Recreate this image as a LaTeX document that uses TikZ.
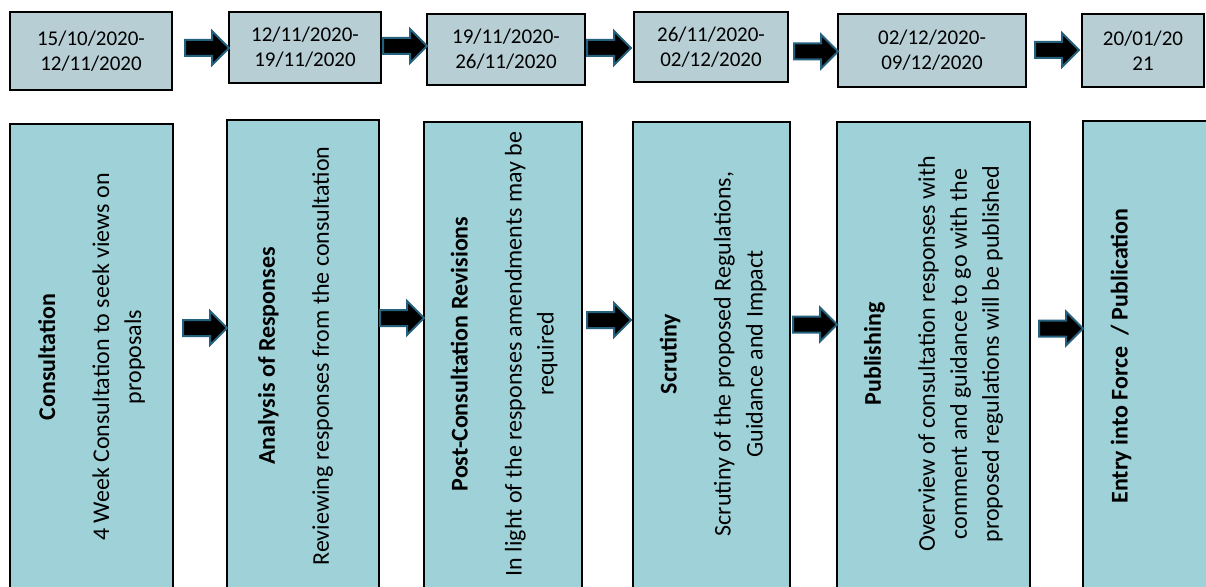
\documentclass[tikz,border=0pt]{standalone}
\usepackage{fontspec}
\setmainfont{Carlito}
\usetikzlibrary{shapes.arrows}
\definecolor{datefill}{RGB}{183,206,213}
\definecolor{stepfill}{RGB}{158,210,216}
\definecolor{arrowedge}{RGB}{37,96,125}
\begin{document}
\begin{tikzpicture}[x=1pt,y=-1pt,
  datebox/.style={draw=black,line width=2pt,fill=datefill,inner sep=0pt,outer sep=0pt,align=center,font=\fontsize{21}{25}\selectfont},
  stepbox/.style={draw=black,line width=2pt,fill=stepfill,inner sep=0pt,outer sep=0pt},
  steptext/.style={rotate=90,align=center,inner sep=0pt,font=\fontsize{24}{32}\selectfont},
  blockarrow/.style={single arrow,draw=arrowedge,fill=black,line width=2pt,minimum height=44pt,single arrow head extend=9pt,inner xsep=0pt,inner ysep=7pt,anchor=tip,outer sep=0pt}]
\useasboundingbox (0,0) rectangle (1206,586);
\fill[white] (0,0) rectangle (1206,586);
\clip (0,0) rectangle (1206,586);

% date boxes
\node[datebox,minimum width=162pt,minimum height=77pt] (d1) at (91,51) {15/10/2020-\\12/11/2020};
\node[datebox,minimum width=152pt,minimum height=71pt] (d2) at (305,47.5) {12/11/2020-\\19/11/2020};
\node[datebox,minimum width=158pt,minimum height=71pt] (d3) at (506,49.5) {19/11/2020-\\26/11/2020};
\node[datebox,minimum width=154pt,minimum height=70pt] (d4) at (711,47) {26/11/2020-\\02/12/2020};
\node[datebox,minimum width=188pt,minimum height=73pt] (d5) at (932,50.5) {02/12/2020-\\09/12/2020};
\node[datebox,minimum width=122pt,minimum height=73pt] (d6) at (1143,50.5) {20/01/20\\21};

% step boxes
\node[stepbox,minimum width=163pt,minimum height=466pt] (b1) at (91.5,357) {};
\node[stepbox,minimum width=152pt,minimum height=470pt] (b2) at (303,355) {};
\node[stepbox,minimum width=158pt,minimum height=468pt] (b3) at (503,356) {};
\node[stepbox,minimum width=157pt,minimum height=468pt] (b4) at (711.5,356) {};
\node[stepbox,minimum width=193pt,minimum height=468pt] (b5) at (933.5,356) {};
\node[stepbox,minimum width=146pt,minimum height=469pt] (b6) at (1156,355.5) {};

% step texts
\node[steptext] (t1) at (91.5,357) {\textbf{Consultation}\\[22pt]4 Week Consultation to seek views on\\proposals};
\node[steptext] (t2) at (295.5,356) {\textbf{Analysis of Responses}\\[22pt]Reviewing responses from the consultation};
\node[steptext] (t3) at (504,354) {\textbf{Post-Consultation Revisions}\\[22pt]In light of the responses amendments may be\\required};
\node[steptext] (t4) at (713,354) {\textbf{Scrutiny}\\[22pt]Scrutiny of the proposed Regulations,\\Guidance and Impact};
\node[steptext] (t5) at (933.5,354) {\textbf{Publishing}\\[22pt]Overview of consultation responses with\\comment and guidance to go with the\\proposed regulations will be published};
\node[steptext] (t6) at (1121,356) {\textbf{Entry into Force\ \ / Publication}};

% top arrows
\node[blockarrow] (ta1) at (d2.west |- 0,48) {};
\node[blockarrow] (ta2) at (d3.west |- 0,46) {};
\node[blockarrow] (ta3) at ([xshift=-3pt]d4.west |- 0,48) {};
\node[blockarrow] (ta4) at (d5.west |- 0,51.5) {};
\node[blockarrow] (ta5) at ([xshift=-3pt]d6.west |- 0,50) {};

% bottom arrows
\node[blockarrow] (ba1) at (b2.west |- 0,328) {};
\node[blockarrow] (ba2) at (b3.west |- 0,318) {};
\node[blockarrow] (ba3) at ([xshift=-2pt]b4.west |- 0,320) {};
\node[blockarrow] (ba4) at (b5.west |- 0,324.5) {};
\node[blockarrow] (ba5) at (b6.west |- 0,328.5) {};
\end{tikzpicture}
\end{document}
